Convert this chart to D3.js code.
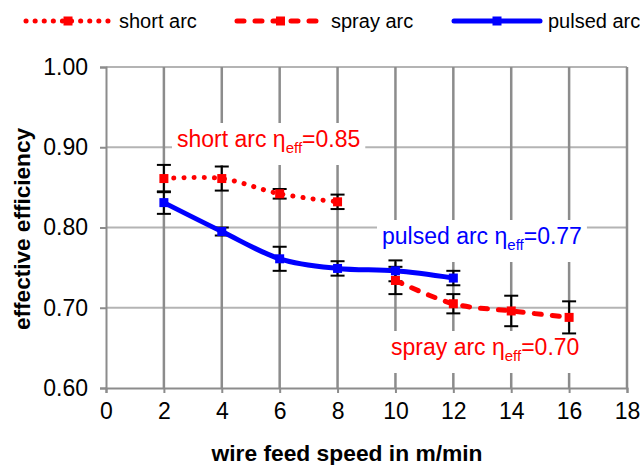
<!DOCTYPE html>
<html><head><meta charset="utf-8">
<script src="https://cdn.jsdelivr.net/npm/d3@7"></script>
<style>body{margin:0;background:#fff}svg{display:block;font-family:"Liberation Sans",Arial,sans-serif}</style>
</head><body>
<svg id="c" width="640" height="465"></svg>
<script>
const xTicks = [0,2,4,6,8,10,12,14,16,18];
const yTicks = [0.60,0.70,0.80,0.90,1.00];
const shortX = [2,4,6,8];
const shortY = [0.861,0.861,0.842,0.832];
const shortErr = [0.017,0.015,0.006,0.009];
const sprayX = [10,12,14,16];
const sprayY = [0.734,0.705,0.696,0.688];
const sprayErr = [0.017,0.012,0.019,0.020];
const pulsedX = [2,4,6,8,10,12];
const pulsedY = [0.831,0.795,0.761,0.749,0.746,0.737];
const pulsedErr = [0.014,0.005,0.015,0.009,0.013,0.009];
const seriesNames = ["short arc","spray arc","pulsed arc"];
const annotations = [
  {name:"short arc", val:"0.85", color:"#ff0000"},
  {name:"pulsed arc", val:"0.77", color:"#0000ff"},
  {name:"spray arc", val:"0.70", color:"#ff0000"}
];

const svg = d3.select("#c");
const x = d3.scaleLinear().domain([0,18]).range([106,627]);
const y = d3.scaleLinear().domain([0.6,1.0]).range([388,67]);

// horizontal gridlines
svg.append("g").selectAll("line").data(yTicks.slice(1)).join("line")
  .attr("x1",x(0)).attr("x2",x(18)).attr("y1",d=>y(d)).attr("y2",d=>y(d))
  .attr("stroke","#b4b4b4").attr("stroke-width",2);
// vertical gridlines
svg.append("g").selectAll("line").data(xTicks.slice(1)).join("line")
  .attr("x1",d=>x(d)).attr("x2",d=>x(d)).attr("y1",y(0.6)).attr("y2",y(1.0))
  .attr("stroke","#8c8c8c").attr("stroke-width",2.5);

// axes
const yAxis = svg.append("g").attr("transform",`translate(${x(0)},0)`)
  .call(d3.axisLeft(y).tickValues(yTicks).tickFormat(d3.format(".2f")).tickSize(6).tickPadding(12));
const xAxis = svg.append("g").attr("transform",`translate(0,${y(0.6)})`)
  .call(d3.axisBottom(x).tickValues(xTicks).tickSize(5).tickPadding(10));
[yAxis,xAxis].forEach(a=>{
  a.select(".domain").attr("stroke","#8c8c8c").attr("stroke-width",2);
  a.selectAll(".tick line").attr("stroke","#8c8c8c").attr("stroke-width",2);
  a.selectAll("text").attr("font-size",23).attr("fill","#000").attr("font-family","Liberation Sans, Arial, sans-serif");
});

// annotation boxes and text
const annPos = [[177,147],[382,244],[391,355]];
annotations.forEach((a,i)=>{
  const g = svg.append("g");
  const t = g.append("text").attr("x",annPos[i][0]).attr("y",annPos[i][1])
    .attr("fill",a.color).attr("font-size",23);
  t.append("tspan").text(a.name+" \u03b7");
  t.append("tspan").text("eff").attr("font-size",15).attr("dy",6);
  t.append("tspan").text("="+a.val).attr("dy",-6);
  const b = t.node().getBBox();
  g.insert("rect","text").attr("x",b.x-5).attr("y",b.y-3).attr("width",b.width+10).attr("height",b.height+12).attr("fill","#fff");
});

const curve = d3.curveCardinal.tension(0);
function series(xs, ys, errs){
  const pts = xs.map((d,i)=>({x:d,y:ys[i],e:errs[i]}));
  const eg = svg.append("g").attr("stroke","#000").attr("stroke-width",2);
  pts.forEach(p=>{
    eg.append("line").attr("x1",x(p.x)).attr("x2",x(p.x)).attr("y1",y(p.y-p.e)).attr("y2",y(p.y+p.e));
    [p.y-p.e,p.y+p.e].forEach(v=>eg.append("line").attr("x1",x(p.x)-7).attr("x2",x(p.x)+7).attr("y1",y(v)).attr("y2",y(v)));
  });
  return pts;
}
function drawLine(pts,color,dash,width,cap){
  svg.append("path").datum(pts)
    .attr("d",d3.line().x(d=>x(d.x)).y(d=>y(d.y)).curve(curve))
    .attr("fill","none").attr("stroke",color).attr("stroke-width",width)
    .attr("stroke-dasharray",dash).attr("stroke-linecap",cap).attr("stroke-linejoin","round");
  svg.append("g").selectAll("rect").data(pts).join("rect")
    .attr("x",d=>x(d.x)-4.5).attr("y",d=>y(d.y)-4.5).attr("width",9).attr("height",9).attr("fill",color);
}
const sp = series(sprayX,sprayY,sprayErr);
const pp = series(pulsedX,pulsedY,pulsedErr);
const shp = series(shortX,shortY,shortErr);
drawLine(sp,"#ff0000","7 11",5,"round");
drawLine(pp,"#0000ff",null,5,"round");
drawLine(shp,"#ff0000","0.1 10",5,"round");

// legend
const legendItems = [
  {name:seriesNames[0], color:"#ff0000", dash:"0.1 9", w:5, x1:26, x2:110, tx:119},
  {name:seriesNames[1], color:"#ff0000", dash:"7 11", w:5, x1:237, x2:324, tx:331},
  {name:seriesNames[2], color:"#0000ff", dash:null, w:5, x1:454, x2:540, tx:548}
];
const ly = 21;
legendItems.forEach(l=>{
  svg.append("line").attr("x1",l.x1).attr("x2",l.x2).attr("y1",ly).attr("y2",ly)
    .attr("stroke",l.color).attr("stroke-width",l.w).attr("stroke-dasharray",l.dash).attr("stroke-linecap","round");
  svg.append("rect").attr("x",(l.x1+l.x2)/2-4.5).attr("y",ly-4.5).attr("width",9).attr("height",9).attr("fill",l.color);
  svg.append("text").attr("x",l.tx).attr("y",ly+7).attr("font-size",20).attr("fill","#000").text(l.name);
});

// axis titles
svg.append("text").attr("x",347).attr("y",461).attr("text-anchor","middle")
  .attr("font-size",22).attr("font-weight","bold")
  .attr("textLength",271).attr("lengthAdjust","spacingAndGlyphs").text("wire feed speed in m/min");
svg.append("text").attr("transform",`translate(30,229) rotate(-90)`).attr("text-anchor","middle")
  .attr("font-size",22).attr("font-weight","bold")
  .attr("textLength",202).attr("lengthAdjust","spacingAndGlyphs").text("effective efficiency");
</script>
</body></html>
